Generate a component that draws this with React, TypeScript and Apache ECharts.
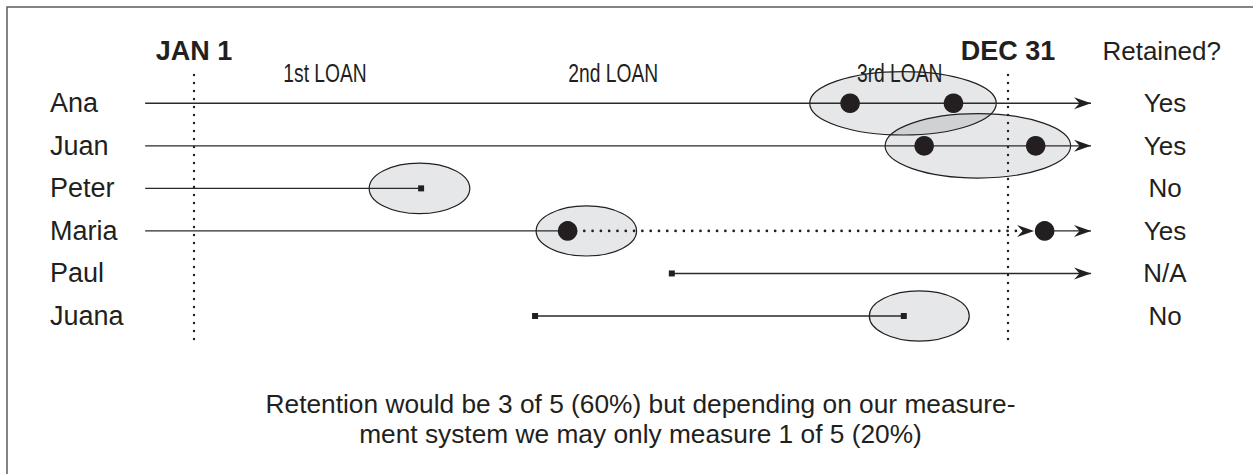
import React, { useEffect, useRef } from 'react';
import * as echarts from 'echarts';

// ---- data (x: share of the year, 0 = JAN 1, 100 = DEC 31; row = person index) ----
const people = ['Ana', 'Juan', 'Peter', 'Maria', 'Paul', 'Juana'];
const retained = ['Yes', 'Yes', 'No', 'Yes', 'N/A', 'No'];
const retainedHeader = 'Retained?';
const periodBounds = [0, 100];
const periodLabels = ['JAN 1', 'DEC 31'];
const loanLabels = ['1st LOAN', '2nd LOAN', '3rd LOAN'];
const loanLabelAt = [16.1, 51.5, 86.7];
// [from, row, to]
const solidSegments = [
  [-6, 0, 110.2],
  [-6, 1, 110.2],
  [-6, 2, 27.9],
  [-6, 3, 45.9],
  [104.5, 3, 110.2],
  [58.7, 4, 110.2],
  [41.9, 5, 87.2],
];
const dottedSegments = [[45.9, 3, 101.1]];
// [tip, row]
const arrowTips = [
  [110.2, 0],
  [110.2, 1],
  [103.2, 3],
  [110.2, 3],
  [110.2, 4],
];
// [x, row]
const loanDots = [
  [80.6, 0],
  [93.3, 0],
  [89.7, 1],
  [103.4, 1],
  [45.9, 3],
  [104.5, 3],
];
const endSquares = [
  [27.9, 2],
  [58.7, 4],
  [41.9, 5],
  [87.2, 5],
];
// [centre x, row, half-width (x units), half-height (rows)]
const loanEllipses = [
  [87.1, 0, 11.46, 0.745],
  [96.3, 1, 11.4, 0.757],
  [27.7, 2, 6.18, 0.595],
  [48.2, 3, 6.17, 0.59],
  [89.1, 5, 6.14, 0.59],
];
const noteLines = [
  'Retention would be 3 of 5 (60%) but depending on our measure-',
  'ment system we may only measure 1 of 5 (20%)',
];

const INK = '#231f20';
const FONT = "'Liberation Sans', Arial, sans-serif";

export default function App() {
  const ref = useRef<HTMLDivElement>(null);

  useEffect(() => {
    document.body.style.margin = '0';
    if (!ref.current) return;
    const chart = echarts.init(ref.current, null, { renderer: 'svg' });

    const hiddenAxis = {
      axisLine: { show: false },
      axisTick: { show: false },
      splitLine: { show: false },
    };

    const option: any = {
      animation: false,
      backgroundColor: '#ffffff',
      grid: {
        left: 112.6,
        right: 82.2,
        top: 60.76,
        bottom: 115.46,
        containLabel: false,
        outerBoundsMode: 'none',
      },
      xAxis: [
        {
          type: 'value',
          position: 'top',
          min: -10,
          max: 120,
          ...hiddenAxis,
          axisLabel: {
            customValues: periodBounds,
            formatter: (v: number) => periodLabels[periodBounds.indexOf(v)] ?? '',
            fontFamily: FONT,
            fontWeight: 'bold',
            fontSize: 27,
            color: INK,
            verticalAlign: 'middle',
            margin: 9.8,
          },
        },
      ],
      yAxis: [
        {
          type: 'value',
          inverse: true,
          min: -1,
          max: 6,
          interval: 1,
          position: 'left',
          ...hiddenAxis,
          axisLabel: {
            formatter: (v: number) => people[Math.round(v)] ?? '',
            fontFamily: FONT,
            fontSize: 27,
            color: INK,
            align: 'left',
            margin: 62.6,
          },
        },
        {
          type: 'value',
          inverse: true,
          min: -1,
          max: 6,
          interval: 1,
          position: 'right',
          ...hiddenAxis,
          axisLabel: {
            formatter: (v: number) => retained[Math.round(v)] ?? '',
            fontFamily: FONT,
            fontSize: 26,
            color: INK,
            align: 'center',
            margin: -5.8,
          },
        },
      ],
      series: [
        {
          type: 'custom',
          name: 'loans',
          silent: true,
          z: 1,
          data: loanEllipses,
          renderItem: (_p: any, api: any) => {
            const c = api.coord([api.value(0), api.value(1)]);
            const s = api.size([api.value(2), api.value(3)]);
            return {
              type: 'ellipse',
              shape: { cx: c[0], cy: c[1], rx: s[0], ry: s[1] },
              style: { fill: 'rgba(20,25,40,0.105)', stroke: INK, lineWidth: 1.2 },
            };
          },
        },
        {
          type: 'custom',
          name: 'loan labels',
          silent: true,
          z: 2,
          data: loanLabelAt.map((v) => [v, -0.69]),
          renderItem: (p: any, api: any) => {
            const c = api.coord([api.value(0), api.value(1)]);
            return {
              type: 'text',
              x: c[0],
              y: c[1],
              scaleX: 0.77,
              style: {
                text: loanLabels[p.dataIndex],
                align: 'center',
                verticalAlign: 'middle',
                fontFamily: FONT,
                fontSize: 25,
                fill: INK,
              },
            };
          },
        },
        {
          type: 'custom',
          name: 'period',
          silent: true,
          z: 2,
          data: periodBounds.map((v) => [v, 0]),
          renderItem: (_p: any, api: any) => {
            const a = api.coord([api.value(0), -0.665]);
            const b = api.coord([api.value(0), 5.68]);
            return {
              type: 'line',
              shape: { x1: a[0], y1: a[1], x2: b[0], y2: b[1] },
              style: { stroke: INK, lineWidth: 2.4, lineDash: [0.1, 7.9], lineCap: 'round' },
            };
          },
        },
        {
          type: 'custom',
          name: 'relationship',
          silent: true,
          z: 3,
          data: solidSegments,
          renderItem: (_p: any, api: any) => {
            const a = api.coord([api.value(0), api.value(1)]);
            const b = api.coord([api.value(2), api.value(1)]);
            return {
              type: 'line',
              shape: { x1: a[0], y1: a[1], x2: b[0], y2: b[1] },
              style: { stroke: '#2a2a2a', lineWidth: 1.4 },
            };
          },
        },
        {
          type: 'custom',
          name: 'gap',
          silent: true,
          z: 3,
          data: dottedSegments,
          renderItem: (_p: any, api: any) => {
            const a = api.coord([api.value(0), api.value(1)]);
            const b = api.coord([api.value(2), api.value(1)]);
            return {
              type: 'line',
              shape: { x1: a[0], y1: a[1], x2: b[0], y2: b[1] },
              style: { stroke: INK, lineWidth: 2.6, lineDash: [0.1, 8.2], lineCap: 'round' },
            };
          },
        },
        {
          type: 'custom',
          name: 'arrows',
          silent: true,
          z: 4,
          data: arrowTips,
          renderItem: (_p: any, api: any) => {
            const t = api.coord([api.value(0), api.value(1)]);
            return {
              type: 'polygon',
              shape: {
                points: [
                  [t[0], t[1]],
                  [t[0] - 17, t[1] - 6],
                  [t[0] - 11.5, t[1]],
                  [t[0] - 17, t[1] + 6],
                ],
              },
              style: { fill: INK },
            };
          },
        },
        {
          type: 'custom',
          name: 'loan dots',
          silent: true,
          z: 4,
          data: loanDots,
          renderItem: (_p: any, api: any) => {
            const c = api.coord([api.value(0), api.value(1)]);
            return {
              type: 'circle',
              shape: { cx: c[0], cy: c[1], r: 9.8 },
              style: { fill: INK },
            };
          },
        },
        {
          type: 'custom',
          name: 'ends',
          silent: true,
          z: 4,
          data: endSquares,
          renderItem: (_p: any, api: any) => {
            const c = api.coord([api.value(0), api.value(1)]);
            return {
              type: 'rect',
              shape: { x: c[0] - 3, y: c[1] - 3, width: 6, height: 6 },
              style: { fill: INK },
            };
          },
        },
      ],
      graphic: [
        {
          type: 'rect',
          silent: true,
          shape: { x: 7, y: 7, width: 1300, height: 520 },
          style: { fill: 'none', stroke: '#5c5c5c', lineWidth: 1.5 },
        },
        {
          type: 'text',
          silent: true,
          x: 1161.7,
          y: 51,
          style: {
            text: retainedHeader,
            align: 'center',
            verticalAlign: 'middle',
            fontFamily: FONT,
            fontSize: 26,
            fill: INK,
          },
        },
        {
          type: 'text',
          silent: true,
          x: 640.5,
          y: 419,
          style: {
            text: noteLines.join('\n'),
            align: 'center',
            verticalAlign: 'middle',
            lineHeight: 30,
            fontFamily: FONT,
            fontSize: 26.3,
            fill: INK,
          },
        },
      ],
    };

    chart.setOption(option);
    return () => chart.dispose();
  }, []);

  return <div ref={ref} style={{ width: 1253, height: 474 }} />;
}
